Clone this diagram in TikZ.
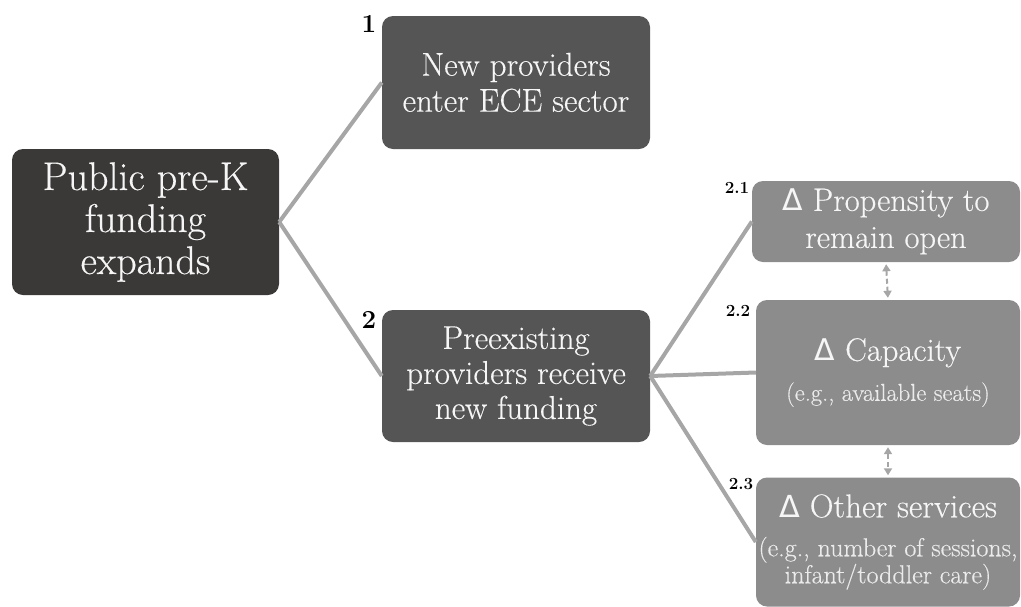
\documentclass[tikz,border=0pt]{standalone}
\usepackage{fontspec}
\newfontfamily\dlt{DejaVu Sans}
\newfontfamily\bx{Latin Modern Roman}[BoldFont=Latin Modern Roman, BoldFeatures={FakeBold=0.35}]
\usetikzlibrary{arrows.meta}
\definecolor{boxA}{HTML}{3A3938}
\definecolor{boxB}{HTML}{555555}
\definecolor{boxC}{HTML}{8C8C8C}
\definecolor{lnk}{HTML}{A6A6A6}
\definecolor{txt}{HTML}{F6F6F6}
\definecolor{stxt}{HTML}{EBEBEB}
\newcommand{\dd}{{\dlt\mdseries\scalebox{0.92}{Δ}}}
\tikzset{
  box/.style={rounded corners=11pt, inner sep=0pt, text=txt, align=center},
  link/.style={draw=lnk, line width=4pt},
  dlink/.style={draw=lnk, line width=2pt, dash pattern=on 5pt off 3pt, shorten <=2pt, shorten >=2pt, {Triangle[length=7pt,width=8pt]}-{Triangle[length=7pt,width=8pt]}},
  num/.style={font=\bfseries\fontsize{26}{28}\selectfont, inner sep=0pt},
  snum/.style={font=\bfseries\fontsize{17}{19}\selectfont, inner sep=0pt}
}
\begin{document}
\begin{tikzpicture}[x=1pt,y=-1pt]
\useasboundingbox (0,0) rectangle (1021,606);
\node[box, fill=boxA, minimum width=267pt, minimum height=146pt, font=\bx\bfseries\fontsize{40}{42}\selectfont] (A) at (145.5,222) {Public pre-K\\funding\\expands};
\node[box, fill=boxB, minimum width=268pt, minimum height=133pt, font=\bx\bfseries\fontsize{33}{36}\selectfont] (B1) at (516,82.5) {New providers\\enter ECE sector};
\node[box, fill=boxB, minimum width=268pt, minimum height=132pt, font=\bx\bfseries\fontsize{33}{35}\selectfont] (B2) at (516,376) {Preexisting\\providers receive\\new funding};
\node[box, fill=boxC, minimum width=268pt, minimum height=81pt, font=\bx\bfseries\fontsize{32.5}{37}\selectfont] (C1) at (886,221.5) {\dd{} Propensity to\\remain open};
\node[box, fill=boxC, minimum width=264pt, minimum height=145pt, font=\bx\bfseries\fontsize{24.5}{26}\selectfont] (C2) at (888,372.5) {{\fontsize{32.5}{36}\selectfont\dd{} Capacity}\\[14pt]\textcolor{stxt}{(e.g., available seats)}};
\node[box, fill=boxC, minimum width=264pt, minimum height=129pt, font=\bx\bfseries\fontsize{26}{25}\selectfont] (C3) at (888,542) {{\fontsize{33}{36}\selectfont\dd{} Other services}\\[14pt]\textcolor{stxt}{(e.g., number of sessions,}\\\textcolor{stxt}{infant/toddler care)}};
\draw[link] (A.east) -- (B1.west);
\draw[link] (A.east) -- (B2.west);
\draw[link] (B2.east) -- (C1.west);
\draw[link] (B2.east) -- (C2.west);
\draw[link] (B2.east) -- (C3.west);
\draw[dlink] (C1.south) -- (C2.north);
\draw[dlink] (C2.south) -- (C3.north);
\node[num] (n1) at (369,24) {1};
\node[num] (n2) at (369,320) {2};
\node[snum] (n21) at (737,188) {2.1};
\node[snum] (n22) at (738,311) {2.2};
\node[snum] (n23) at (741,484) {2.3};
\end{tikzpicture}
\end{document}
